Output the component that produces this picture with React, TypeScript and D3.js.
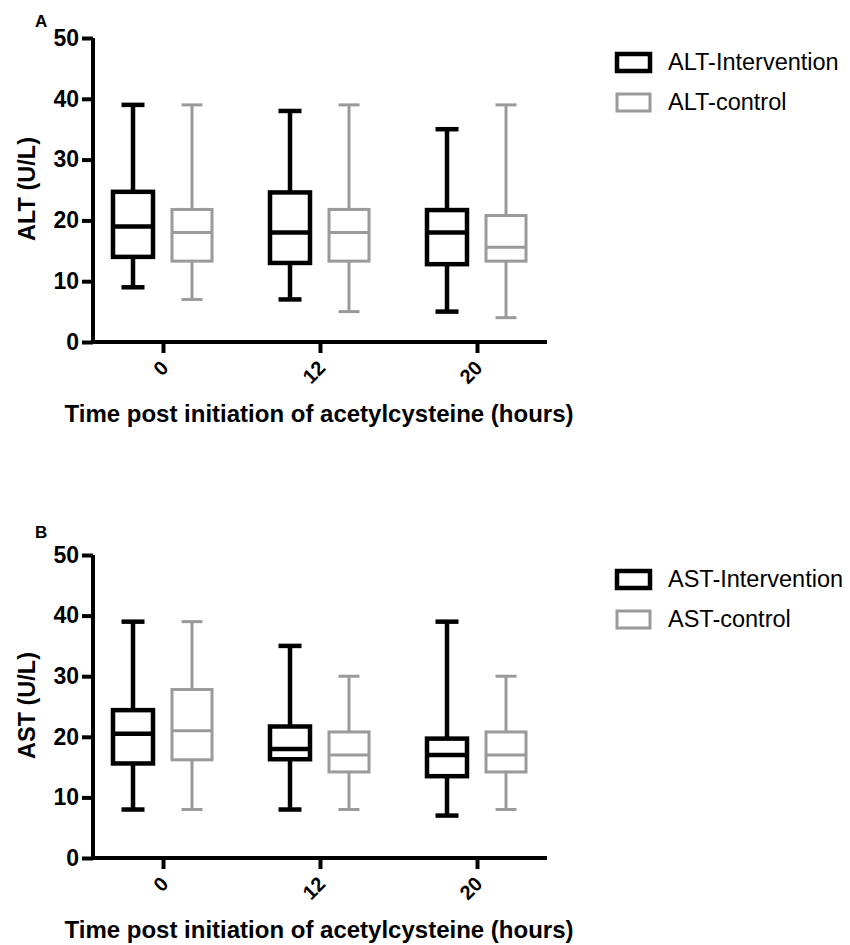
import React, { useEffect, useRef } from 'react';
import * as d3 from 'd3';

// time points (hours)
const timepoints = ['0', '12', '20'];
const yTicks = [0, 10, 20, 30, 40, 50];

// [min, q1, median, q3, max] per timepoint
const altIntervention = [
  [9, 14, 19, 24.7, 39],
  [7, 13, 18, 24.6, 38],
  [5, 12.8, 18, 21.7, 35],
];
const altControl = [
  [7, 13.3, 18, 21.8, 39],
  [5, 13.3, 18, 21.8, 39],
  [4, 13.3, 15.6, 20.8, 39],
];
const astIntervention = [
  [8, 15.6, 20.5, 24.4, 39],
  [8, 16.3, 18, 21.7, 35],
  [7, 13.5, 17, 19.7, 39],
];
const astControl = [
  [8, 16.2, 21, 27.8, 39],
  [8, 14.2, 17, 20.8, 30],
  [8, 14.2, 17, 20.8, 30],
];

const panels = [
  { letter: 'A', letterY: 27, yLabel: 'ALT (U/L)', names: ['ALT-Intervention', 'ALT-control'], inter: altIntervention, ctrl: altControl, top: 38, bottom: 342 },
  { letter: 'B', letterY: 538, yLabel: 'AST (U/L)', names: ['AST-Intervention', 'AST-control'], inter: astIntervention, ctrl: astControl, top: 555, bottom: 858 },
];

const FONT = 'Liberation Sans, Arial, Helvetica, sans-serif';
const GRAY = '#9a9a9a';

export default function App() {
  const ref = useRef<SVGSVGElement>(null);

  useEffect(() => {
    const svg = d3.select(ref.current);
    svg.selectAll('*').remove();

    const x = d3.scalePoint<string>().domain(timepoints).range([163, 477]);
    const axisLeft = 93, axisRight = 547;

    panels.forEach(p => {
      const y = d3.scaleLinear().domain([0, 50]).range([p.bottom, p.top]);
      const g = svg.append('g');

      // panel letter
      g.append('text')
        .attr('x', 35).attr('y', p.letterY)
        .attr('font-family', FONT).attr('font-weight', 'bold').attr('font-size', 17)
        .text(p.letter);

      // y axis
      const ya = g.append('g')
        .attr('transform', `translate(${axisLeft},0)`)
        .call(d3.axisLeft(y).tickValues(yTicks).tickSize(11).tickPadding(3).tickSizeOuter(0));
      ya.select('.domain').attr('stroke', '#000').attr('stroke-width', 4).attr('d', `M0,${p.bottom + 2}V${p.top}`);
      ya.selectAll('.tick line').attr('stroke', '#000').attr('stroke-width', 4);
      ya.selectAll('.tick text')
        .attr('font-family', FONT).attr('font-weight', 'bold').attr('font-size', 23).attr('fill', '#000');

      // x axis
      const xa = g.append('g')
        .attr('transform', `translate(0,${p.bottom})`)
        .call(d3.axisBottom(x).tickSize(11).tickSizeOuter(0));
      xa.select('.domain').attr('stroke', '#000').attr('stroke-width', 4).attr('d', `M${axisLeft - 2},0H${axisRight}`);
      xa.selectAll('.tick line').attr('stroke', '#000').attr('stroke-width', 4);
      xa.selectAll('.tick text')
        .attr('font-family', FONT).attr('font-weight', 'bold').attr('font-size', 20).attr('fill', '#000')
        .attr('text-anchor', 'end')
        .attr('dy', null).attr('y', 0)
        .attr('transform', 'translate(-4,17) rotate(-45)')
        .attr('dominant-baseline', 'hanging');

      // axis titles
      g.append('text')
        .attr('x', 319).attr('y', p.bottom + 80)
        .attr('text-anchor', 'middle')
        .attr('font-family', FONT).attr('font-weight', 'bold').attr('font-size', 24)
        .text('Time post initiation of acetylcysteine (hours)');

      g.append('text')
        .attr('transform', `translate(35,${(p.top + p.bottom) / 2 - 1}) rotate(-90)`)
        .attr('text-anchor', 'middle')
        .attr('font-family', FONT).attr('font-weight', 'bold').attr('font-size', 23.5)
        .text(p.yLabel);

      // boxes
      const series = [
        { data: p.inter, color: '#000', sw: 4.5, off: -30, cap: 23 },
        { data: p.ctrl, color: GRAY, sw: 3, off: 29, cap: 21 },
      ];
      const boxW = 40;
      series.forEach(s => {
        s.data.forEach((d, i) => {
          const cx = (x(timepoints[i]) as number) + s.off;
          const [mn, q1, md, q3, mx] = d;
          const bg = g.append('g').attr('stroke', s.color).attr('stroke-width', s.sw).attr('fill', 'none');
          bg.append('line').attr('x1', cx).attr('x2', cx).attr('y1', y(mx)).attr('y2', y(q3));
          bg.append('line').attr('x1', cx).attr('x2', cx).attr('y1', y(q1)).attr('y2', y(mn));
          bg.append('line').attr('x1', cx - s.cap / 2).attr('x2', cx + s.cap / 2).attr('y1', y(mx)).attr('y2', y(mx));
          bg.append('line').attr('x1', cx - s.cap / 2).attr('x2', cx + s.cap / 2).attr('y1', y(mn)).attr('y2', y(mn));
          bg.append('rect').attr('x', cx - boxW / 2).attr('width', boxW)
            .attr('y', y(q3)).attr('height', y(q1) - y(q3));
          bg.append('line').attr('x1', cx - boxW / 2).attr('x2', cx + boxW / 2).attr('y1', y(md)).attr('y2', y(md));
        });
      });

      // legend
      const legY = p.top + 24;
      p.names.forEach((name, i) => {
        const s = series[i];
        const ly = legY + i * 40;
        g.append('rect')
          .attr('x', 617).attr('y', ly - 8).attr('width', 33).attr('height', 17)
          .attr('fill', 'none').attr('stroke', s.color).attr('stroke-width', s.sw);
        g.append('text')
          .attr('x', 668).attr('y', ly + 8)
          .attr('font-family', FONT).attr('font-size', 23.5).attr('fill', '#000')
          .text(name);
      });
    });
  }, []);

  return <svg ref={ref} width={850} height={945} style={{ display: 'block', position: 'absolute', left: 0, top: 0, background: '#fff' }} />;
}
